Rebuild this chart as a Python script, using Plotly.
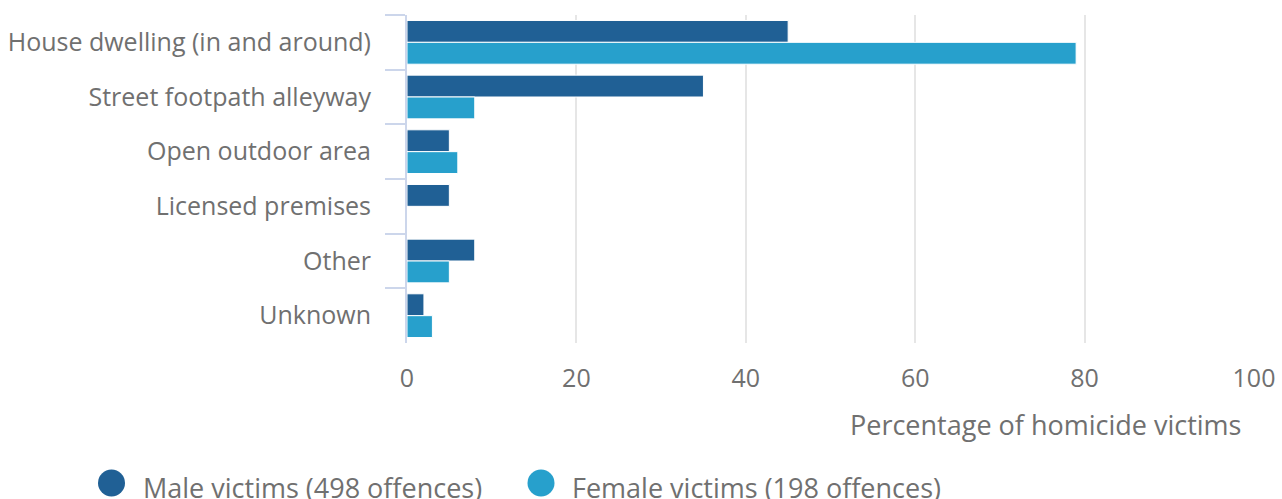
import plotly.graph_objects as go

categories = ["House dwelling (in and around)", "Street footpath alleyway", "Open outdoor area",
              "Licensed premises", "Other", "Unknown"]
male_values = [45, 35, 5, 5, 8, 2]
female_values = [79, 8, 6, 0, 5, 3]
series_names = ["Male victims (498 offences)", "Female victims (198 offences)"]
x_ticks = [0, 20, 40, 60, 80, 100]
x_title = "Percentage of homicide victims"

MALE = "#206095"
FEMALE = "#27a0cc"
TEXT = "#707070"
FONT = "Open Sans"

fig = go.Figure()
fig.add_trace(go.Bar(y=categories, x=male_values, orientation="h", name=series_names[0],
                     marker=dict(color=MALE, line=dict(color="white", width=1)), showlegend=False))
fig.add_trace(go.Bar(y=categories, x=female_values, orientation="h", name=series_names[1],
                     marker=dict(color=FEMALE, line=dict(color="white", width=1)), showlegend=False))

W, H = 1282, 499
L, R, T, B = 407, 28, 15, 156
pw, ph = W - L - R, H - T - B

def px(x):
    return (x - L) / pw

def py(y):
    return (H - B - y) / ph

fig.update_layout(
    width=W, height=H,
    margin=dict(l=L, r=R, t=T, b=B, autoexpand=False),
    paper_bgcolor="white", plot_bgcolor="white",
    barmode="group", bargap=0.2, bargroupgap=0.0,
    font=dict(family=FONT, color=TEXT, size=25),
    showlegend=False,
    xaxis=dict(range=[0, 100], tickvals=x_ticks, showgrid=True, gridcolor="#e6e6e6", gridwidth=2,
               zeroline=False, showline=False, ticks="", tickfont=dict(size=25, color=TEXT),
               ticklabelstandoff=18, fixedrange=True),
    yaxis=dict(autorange="reversed", categoryorder="array", categoryarray=categories,
               showline=True, linecolor="#ccd6eb", linewidth=2, ticks="outside", ticklen=20,
               tickcolor="#ccd6eb", tickwidth=2, tickson="boundaries", showgrid=False,
               tickfont=dict(size=25, color=TEXT), ticklabelstandoff=29, fixedrange=True),
)

fig.add_annotation(text=x_title, xref="paper", yref="paper", x=px(1244), y=py(424), xanchor="right",
                   yanchor="middle", showarrow=False, font=dict(size=27, color=TEXT))

legend_items = [(111.5, 143, MALE, series_names[0]), (541, 572, FEMALE, series_names[1])]
for cx, tx, col, name in legend_items:
    r = 13.5
    fig.add_shape(type="circle", xref="paper", yref="paper",
                  x0=px(cx - r), x1=px(cx + r), y0=py(483 + r), y1=py(483 - r),
                  fillcolor=col, line=dict(width=0))
    fig.add_annotation(text=name, xref="paper", yref="paper", x=px(tx - 2), y=py(487),
                       xanchor="left", yanchor="middle", showarrow=False,
                       font=dict(size=27, color=TEXT))

fig.write_html("out.html", config={"displayModeBar": False},
               post_script="document.body.style.margin='0';")
